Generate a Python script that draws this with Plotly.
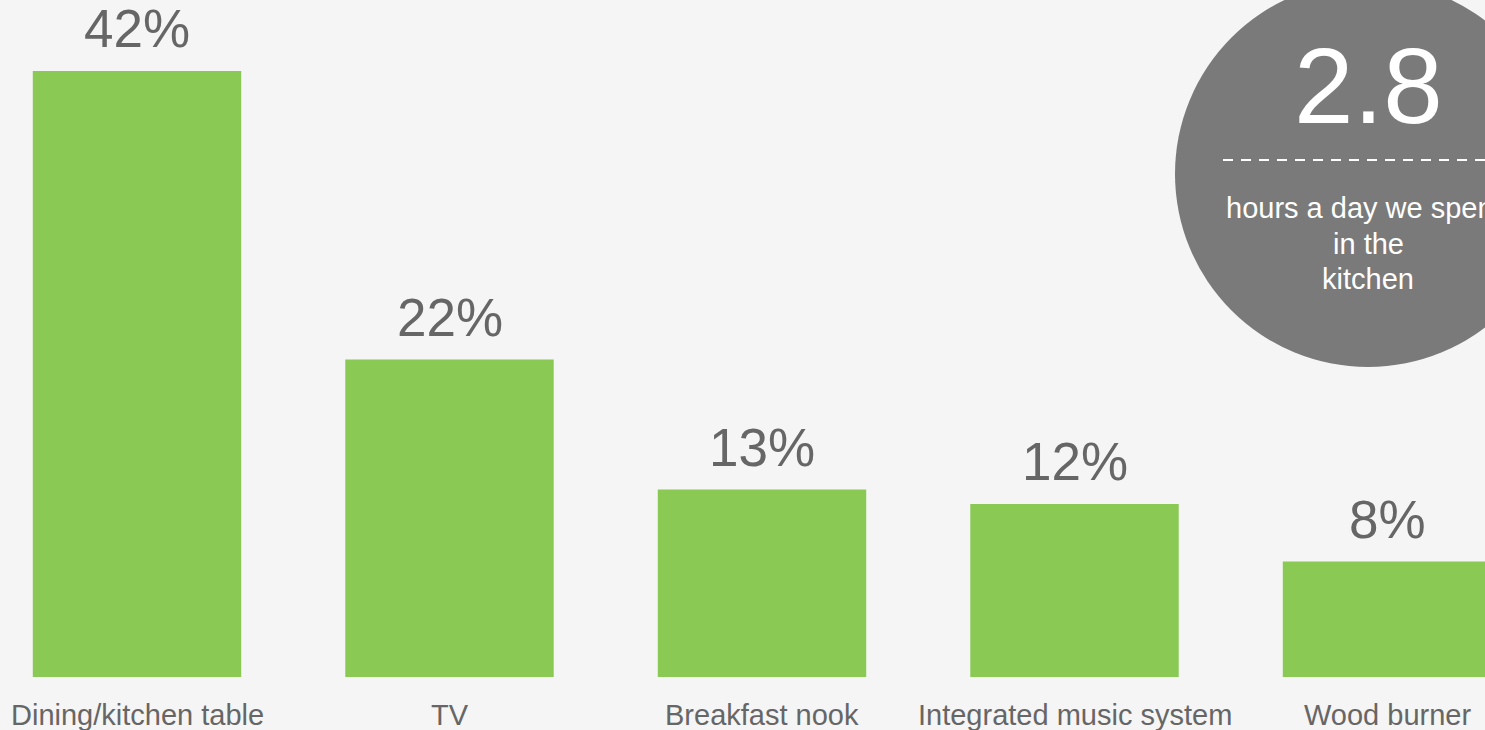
import plotly.graph_objects as go

categories = ["Dining/kitchen table", "TV", "Breakfast nook", "Integrated music system", "Wood burner"]
values = [42, 22, 13, 12, 8]
value_labels = ["42%", "22%", "13%", "12%", "8%"]
stat_value = "2.8"
stat_lines = ["hours a day we spend", "in the", "kitchen"]

W, H = 1485, 730
FONT = "Liberation Sans, Arial, Helvetica, sans-serif"
GREEN = "#8bc955"
GREY_TXT = "#666666"
BG = "#f5f5f5"
CIRCLE = "#7a7a7a"

fig = go.Figure()
fig.add_trace(go.Bar(
    x=list(range(len(categories))), y=values,
    marker=dict(color=GREEN, line=dict(width=0)),
    hoverinfo="skip",
))

annotations = []
for i, (v, lab, cat) in enumerate(zip(values, value_labels, categories)):
    annotations.append(dict(x=i, y=v, xref="x", yref="y", text=lab, showarrow=False,
                            yanchor="middle", yshift=42,
                            font=dict(family=FONT, size=53, color=GREY_TXT)))
    annotations.append(dict(x=i, y=0, xref="x", yref="y", text=cat, showarrow=False,
                            yanchor="middle", yshift=-38,
                            font=dict(family=FONT, size=29, color=GREY_TXT)))

# circle callout (pixel -> paper)
cx, cy, r = 1368, 174, 193
def px(x):
    return x / W
def py(y):
    return 1 - y / H

annotations.append(dict(x=px(cx), y=py(86), xref="paper", yref="paper", text=stat_value,
                        showarrow=False, xanchor="center", yanchor="middle",
                        font=dict(family=FONT, size=107, color="white")))
for line, ly in zip(stat_lines, [208, 244, 279]):
    annotations.append(dict(x=px(cx), y=py(ly), xref="paper", yref="paper", text=line,
                            showarrow=False, xanchor="center", yanchor="middle",
                            font=dict(family=FONT, size=29, color="white")))

shapes = [
    dict(type="circle", xref="paper", yref="paper",
         x0=px(cx - r), x1=px(cx + r), y0=py(cy + r), y1=py(cy - r),
         fillcolor=CIRCLE, line=dict(width=0), layer="above"),
    dict(type="line", xref="paper", yref="paper",
         x0=px(1223), x1=px(1500), y0=py(160), y1=py(160),
         line=dict(color="white", width=2, dash="10px,8px"), layer="above"),
]

fig.update_layout(
    width=W, height=H,
    margin=dict(l=0, r=0, t=0, b=0),
    paper_bgcolor=BG, plot_bgcolor=BG,
    bargap=0.333,
    showlegend=False,
    xaxis=dict(range=[-0.4384, 4.3136], visible=False, fixedrange=True),
    yaxis=dict(range=[-3.67, 46.92], visible=False, fixedrange=True),
    annotations=annotations,
    shapes=shapes,
)

fig.write_html("out.html", config={"displayModeBar": False},
               post_script="document.body.style.margin='0';document.body.style.overflow='hidden';")
